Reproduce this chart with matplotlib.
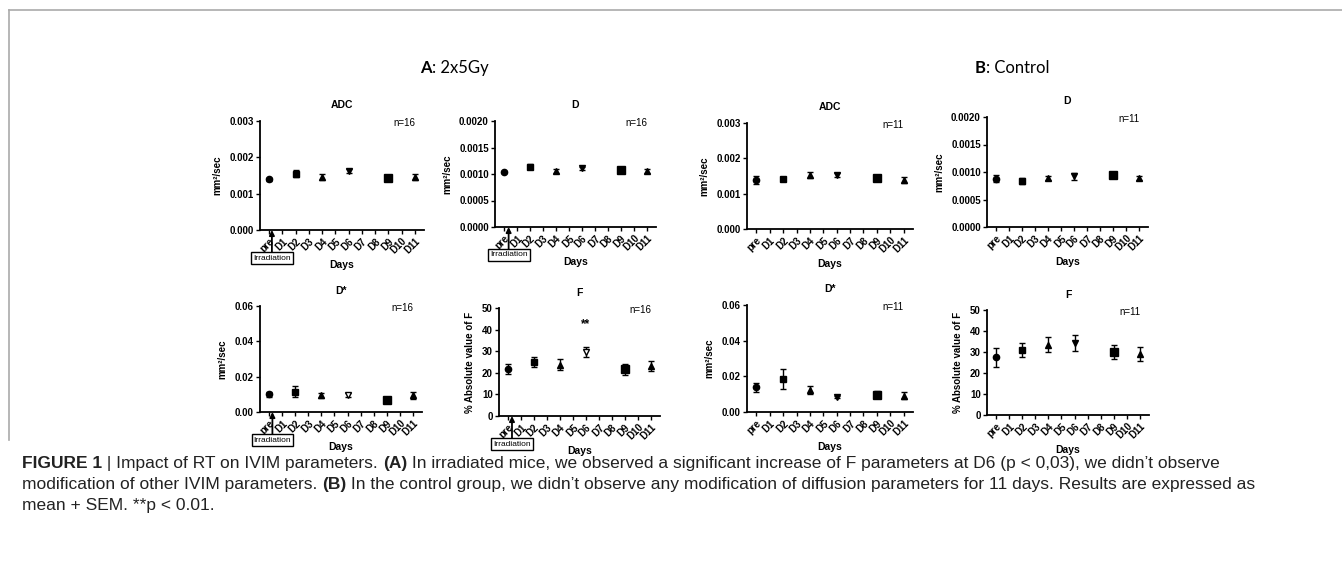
import matplotlib
matplotlib.use('Agg')
import matplotlib.pyplot as plt
from matplotlib.lines import Line2D

W, H = 1342, 569

# ---- data ----
days = ['pre', 'D1', 'D2', 'D3', 'D4', 'D5', 'D6', 'D7', 'D8', 'D9', 'D10', 'D11']
meas_days = ['pre', 'D2', 'D4', 'D6', 'D9', 'D11']

a_adc_mean = [0.00139, 0.00155, 0.00146, 0.00163, 0.00143, 0.00146]
a_adc_sem = [0.00004, 0.00009, 0.00008, 0.00005, 0.00006, 0.00008]
a_d_mean = [0.00103, 0.00114, 0.00106, 0.00111, 0.00108, 0.00106]
a_d_sem = [0.00002, 0.00005, 0.00004, 0.00003, 0.00003, 0.00004]
a_dstar_mean = [0.0101, 0.0116, 0.0094, 0.0098, 0.0068, 0.0094]
a_dstar_sem = [0.0015, 0.0029, 0.0012, 0.0012, 0.0004, 0.0018]
a_f_mean = [21.9, 25.0, 23.8, 29.6, 21.6, 23.1]
a_f_sem = [2.3, 2.5, 2.5, 2.5, 2.5, 2.4]

b_adc_mean = [0.00139, 0.00141, 0.00152, 0.00152, 0.00143, 0.00139]
b_adc_sem = [0.00011, 0.00005, 0.00008, 0.00006, 0.00007, 0.00008]
b_d_mean = [0.00088, 0.00084, 0.00089, 0.00092, 0.00094, 0.00089]
b_d_sem = [0.00007, 0.00006, 0.00003, 0.00006, 0.00002, 0.00004]
b_dstar_mean = [0.0138, 0.0186, 0.0123, 0.0086, 0.0097, 0.0091]
b_dstar_sem = [0.0024, 0.0056, 0.0020, 0.0005, 0.0020, 0.0020]
b_f_mean = [27.5, 31.0, 33.5, 34.5, 30.0, 29.0]
b_f_sem = [4.5, 3.2, 3.6, 3.8, 3.2, 3.4]

markers = ['o', 's', '^', 'v', 's', '^']
msizes = [4.5, 4.5, 4.5, 4.5, 5.5, 4.5]

fig = plt.figure(figsize=(W / 100, H / 100), dpi=100)
plt.rcParams['font.family'] = ['Liberation Sans', 'DejaVu Sans']


def px_axes(x0, y0, x1, y1):
    return fig.add_axes([x0 / W, 1 - y1 / H, (x1 - x0) / W, (y1 - y0) / H])


def panel(rect, title, mean, sem, ylim, yticks, yfmt, ylabel, n, irr=None, star=False, hollow=()):
    ax = px_axes(*rect)
    xi = [days.index(d) for d in meas_days]
    for i, (x, m, s) in enumerate(zip(xi, mean, sem)):
        fc = 'white' if i in hollow else 'black'
        ax.errorbar(x, m, yerr=s, fmt=markers[i], ms=msizes[i], mfc=fc, mec='black',
                    color='black', ecolor='black', elinewidth=1.0, capsize=2.5, capthick=1.0)
    ax.set_xlim(-0.7, len(days) - 0.3)
    ax.set_ylim(*ylim)
    ax.set_yticks(yticks)
    ax.set_yticklabels([yfmt.format(v) for v in yticks], fontsize=7, fontweight='bold')
    ax.set_xticks(range(len(days)))
    ax.set_xticklabels(days, rotation=45, ha='right', rotation_mode='anchor',
                       fontsize=7, fontweight='bold')
    for sp in ['top', 'right']:
        ax.spines[sp].set_visible(False)
    for sp in ['left', 'bottom']:
        ax.spines[sp].set_linewidth(1.3)
    ax.tick_params(width=1.0, length=3, pad=1.5)
    ax.set_title(title, fontsize=7.5, fontweight='bold', pad=9)
    ax.set_xlabel('Days', fontsize=7.5, fontweight='bold', labelpad=3)
    ax.set_ylabel(ylabel, fontsize=7, fontweight='bold', labelpad=5)
    ax.text(0.88, 0.98, n, transform=ax.transAxes, ha='center', va='center', fontsize=7)
    if star:
        ax.text(6, 42.5, '**', ha='center', va='center', fontsize=8.5, fontweight='bold')
    if irr is not None:
        ax.annotate('Irradiation', xy=(irr, 0), xycoords=('data', 'axes fraction'),
                    xytext=(0, -28), textcoords='offset pixels', ha='center', va='center',
                    fontsize=6, annotation_clip=False,
                    bbox=dict(boxstyle='square,pad=0.25', fc='white', ec='black', lw=1.0),
                    arrowprops=dict(arrowstyle='-|>,head_length=0.5,head_width=0.25',
                                    color='black', lw=1.3, shrinkA=0, shrinkB=0))
    return ax


mm = 'mm\u00b2/sec'
panel((260, 121, 424, 230), 'ADC', a_adc_mean, a_adc_sem, (0, 0.003),
      [0, 0.001, 0.002, 0.003], '{:.3f}', mm, 'n=16', irr=0.2)
panel((495, 121, 656, 227), 'D', a_d_mean, a_d_sem, (0, 0.002),
      [0, 0.0005, 0.001, 0.0015, 0.002], '{:.4f}', mm, 'n=16', irr=0.35)
panel((260, 306, 422, 412), 'D*', a_dstar_mean, a_dstar_sem, (0, 0.06),
      [0, 0.02, 0.04, 0.06], '{:.2f}', mm, 'n=16', irr=0.25, hollow=(3,))
panel((499, 308, 660, 416), 'F', a_f_mean, a_f_sem, (0, 50),
      [0, 10, 20, 30, 40, 50], '{:.0f}', '% Absolute value of F', 'n=16', irr=0.3,
      star=True, hollow=(3,))

panel((747, 123, 913, 229), 'ADC', b_adc_mean, b_adc_sem, (0, 0.003),
      [0, 0.001, 0.002, 0.003], '{:.3f}', mm, 'n=11')
panel((987, 117, 1148, 227), 'D', b_d_mean, b_d_sem, (0, 0.002),
      [0, 0.0005, 0.001, 0.0015, 0.002], '{:.4f}', mm, 'n=11')
panel((747, 305, 913, 412), 'D*', b_dstar_mean, b_dstar_sem, (0, 0.06),
      [0, 0.02, 0.04, 0.06], '{:.2f}', mm, 'n=11')
panel((987, 310, 1149, 415), 'F', b_f_mean, b_f_sem, (0, 50),
      [0, 10, 20, 30, 40, 50], '{:.0f}', '% Absolute value of F', 'n=11')

# grey frame
fig.add_artist(Line2D([9 / W, 1], [1 - 10 / H, 1 - 10 / H], color='#aaaaaa', lw=1.2))
fig.add_artist(Line2D([9 / W, 9 / W], [1 - 10 / H, 1 - 440 / H], color='#aaaaaa', lw=1.2))

renderer = fig.canvas.get_renderer()


def write_line(x, y, pieces, **kw):
    # pieces: list of (text, bold); laid out left to right
    for txt, bold in pieces:
        t = fig.text(x / W, 1 - y / H, txt, fontweight='bold' if bold else 'normal',
                     va='baseline', ha='left', **kw)
        x += t.get_window_extent(renderer).width
    return x


# group headers
hdr = dict(fontsize=12, family=['Lato', 'DejaVu Sans'])
write_line(420, 73, [('A', True), (': 2x5Gy', False)], **hdr)
write_line(975, 73, [('B', True), (': Control', False)], **hdr)

cap = dict(fontsize=12.5, family=['Liberation Sans', 'DejaVu Sans'], color='#222222')
write_line(22, 468, [('FIGURE 1', True), (' | Impact of RT on IVIM parameters. ', False), ('(A)', True),
                     (" In irradiated mice, we observed a significant increase of F parameters at D6 "
                      "(p < 0,03), we didn\u2019t observe", False)], **cap)
write_line(22, 489, [('modification of other IVIM parameters. ', False), ('(B)', True),
                     (" In the control group, we didn\u2019t observe any modification of diffusion "
                      "parameters for 11 days. Results are expressed as", False)], **cap)
write_line(22, 510, [('mean + SEM. **p < 0.01.', False)], **cap)

fig.savefig('out.png', dpi=100)
